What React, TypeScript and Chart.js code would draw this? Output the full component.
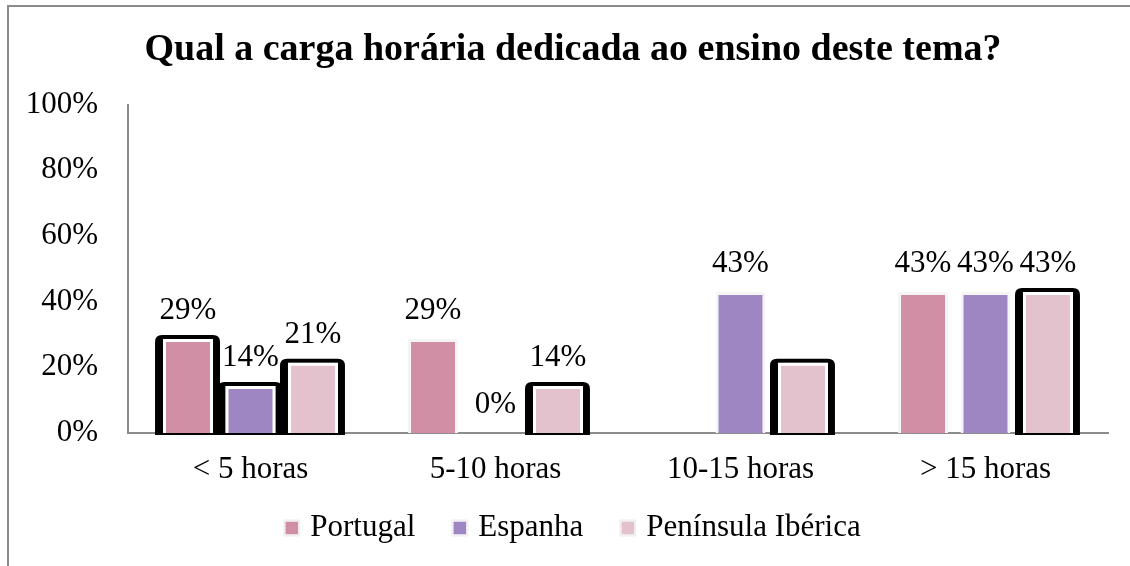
import React, { useEffect, useRef } from "react";
import { Chart, registerables } from "chart.js";

Chart.register(...registerables);

const categories = ["< 5 horas", "5-10 horas", "10-15 horas", "> 15 horas"];
const seriesNames = ["Portugal", "Espanha", "Península Ibérica"];
const portugalValues: (number | null)[] = [28.6, 28.6, null, 42.9];
const espanhaValues: (number | null)[] = [14.3, 0, 42.9, 42.9];
const ibericaValues: (number | null)[] = [21.4, 14.3, 21.4, 42.9];
const portugalLabels = ["29%", "29%", "", "43%"];
const espanhaLabels = ["14%", "0%", "43%", "43%"];
const ibericaLabels = ["21%", "14%", "", "43%"];
const portugalFramed = [true, false, false, false];
const espanhaFramed = [true, false, false, false];
const ibericaFramed = [true, true, true, true];
const yTicks = [0, 20, 40, 60, 80, 100];
const titleText = "Qual a carga horária dedicada ao ensino deste tema?";

const seriesColors = ["#D08FA4", "#9D86C2", "#E3C1CD"];
const FONT = "'Liberation Serif', 'Times New Roman', serif";
const TEXT_SIZE = 31;
const AXIS_COLOR = "#8c8c8c";
const PAD_LEFT = 16;

const framePlugin = {
  id: "barFrames",
  beforeDatasetsDraw(chart: any) {
    const ctx = chart.ctx;
    chart.data.datasets.forEach((ds: any, di: number) => {
      const meta = chart.getDatasetMeta(di);
      meta.data.forEach((el: any, i: number) => {
        if (!ds.framed || !ds.framed[i] || ds.data[i] == null) return;
        const { x, y, base, width } = el.getProps(["x", "y", "base", "width"], true);
        const l = x - width / 2 - 8;
        const r = x + width / 2 + 7;
        const t = y - 4;
        const b = base + 2;
        const rad = 7;
        ctx.save();
        ctx.fillStyle = "#000";
        ctx.beginPath();
        ctx.moveTo(l, b);
        ctx.lineTo(l, t + rad);
        ctx.quadraticCurveTo(l, t, l + rad, t);
        ctx.lineTo(r - rad, t);
        ctx.quadraticCurveTo(r, t, r, t + rad);
        ctx.lineTo(r, b);
        ctx.closePath();
        ctx.fill();
        ctx.fillStyle = "#fff";
        ctx.fillRect(x - width / 2, y, width, base - y);
        ctx.restore();
      });
    });
  },
};

const labelPlugin = {
  id: "valueLabels",
  afterDatasetsDraw(chart: any) {
    const ctx = chart.ctx;
    ctx.save();
    ctx.font = `${TEXT_SIZE}px ${FONT}`;
    ctx.fillStyle = "#000";
    ctx.textAlign = "center";
    ctx.textBaseline = "alphabetic";
    chart.data.datasets.forEach((ds: any, di: number) => {
      const meta = chart.getDatasetMeta(di);
      meta.data.forEach((el: any, i: number) => {
        const txt = ds.valueLabels ? ds.valueLabels[i] : "";
        if (!txt || ds.data[i] == null) return;
        const { x, y } = el.getProps(["x", "y"], true);
        ctx.fillText(txt, x, y - 20);
      });
    });
    ctx.restore();
  },
};

const legendPlugin = {
  id: "bottomLegend",
  afterDraw(chart: any) {
    const ctx = chart.ctx;
    const box = 13;
    const gapText = 12;
    const gapItem = 38;
    const cy = 528;
    ctx.save();
    ctx.font = `${TEXT_SIZE}px ${FONT}`;
    const names: string[] = chart.data.datasets.map((d: any) => d.label);
    const widths = names.map((n) => box + gapText + ctx.measureText(n).width);
    const total = widths.reduce((a, b) => a + b, 0) + gapItem * (names.length - 1);
    const center = (PAD_LEFT + chart.width) / 2;
    let x = center - total / 2;
    names.forEach((n, i) => {
      const ds: any = chart.data.datasets[i];
      ctx.fillStyle = ds.backgroundColor;
      ctx.fillRect(x, cy - box / 2, box, box);
      ctx.strokeStyle = "#f0f0f0";
      ctx.lineWidth = 2;
      ctx.strokeRect(x - 1, cy - box / 2 - 1, box + 2, box + 2);
      ctx.fillStyle = "#000";
      ctx.textAlign = "left";
      ctx.textBaseline = "middle";
      ctx.fillText(n, x + box + gapText, cy);
      x += widths[i] + gapItem;
    });
    ctx.restore();
  },
};

export default function App() {
  const canvasRef = useRef<HTMLCanvasElement | null>(null);

  useEffect(() => {
    if (!canvasRef.current) return;
    const values = [portugalValues, espanhaValues, ibericaValues];
    const labels = [portugalLabels, espanhaLabels, ibericaLabels];
    const framed = [portugalFramed, espanhaFramed, ibericaFramed];

    const chart = new Chart(canvasRef.current, {
      type: "bar",
      data: {
        labels: categories,
        datasets: seriesNames.map((name, si) => ({
          label: name,
          data: values[si],
          yAxisID: "y",
          valueLabels: labels[si],
          framed: framed[si],
          backgroundColor: seriesColors[si],
          borderColor: (c: any) => (framed[si][c.dataIndex] ? "#ffffff" : "#f5f5f5"),
          borderWidth: 3,
          borderSkipped: "start",
          barPercentage: 0.8,
          categoryPercentage: 0.765,
        })) as any,
      },
      options: {
        animation: false,
        responsive: true,
        maintainAspectRatio: false,
        layout: { padding: { left: PAD_LEFT, right: 0, top: 0, bottom: 73 } },
        scales: {
          x: {
            offset: true,
            z: 1,
            grid: { display: false, drawTicks: false },
            border: { display: true, color: AXIS_COLOR, width: 2 },
            ticks: { font: { family: FONT, size: TEXT_SIZE }, color: "#000", padding: 18 },
            afterFit: (s: any) => {
              s.height = 60;
            },
          },
          y: {
            min: 0,
            max: 100,
            position: "left",
            grid: { display: false, drawTicks: false },
            border: { display: true, color: AXIS_COLOR, width: 2 },
            afterBuildTicks: (s: any) => {
              s.ticks = yTicks.map((v) => ({ value: v }));
            },
            ticks: {
              font: { family: FONT, size: TEXT_SIZE },
              color: "#000",
              padding: 30,
              callback: (v: any) => `${v}%`,
            },
            afterFit: (s: any) => {
              s.width = 128 - PAD_LEFT;
            },
          },
          yRight: {
            axis: "y",
            position: "right",
            display: true,
            min: 0,
            max: 100,
            grid: { display: false, drawTicks: false },
            border: { display: false },
            ticks: { display: false },
            afterFit: (s: any) => {
              s.width = 22;
            },
          },
        },
        plugins: {
          title: {
            display: true,
            text: titleText,
            color: "#000",
            font: { family: FONT, size: 38, weight: "bold" },
            padding: { top: 27, bottom: 32 },
          },
          legend: { display: false },
          tooltip: { enabled: false },
        },
      } as any,
      plugins: [framePlugin, labelPlugin, legendPlugin],
    });
    return () => chart.destroy();
  }, []);

  return (
    <div
      style={{
        position: "fixed",
        left: 0,
        top: 0,
        width: 1130,
        height: 566,
        background: "#fff",
        overflow: "hidden",
      }}
    >
      <canvas ref={canvasRef} />
      <div
        style={{
          position: "absolute",
          left: 7,
          top: 5,
          width: 1200,
          height: 700,
          borderLeft: `2px solid ${AXIS_COLOR}`,
          borderTop: `2px solid ${AXIS_COLOR}`,
          pointerEvents: "none",
        }}
      />
    </div>
  );
}
